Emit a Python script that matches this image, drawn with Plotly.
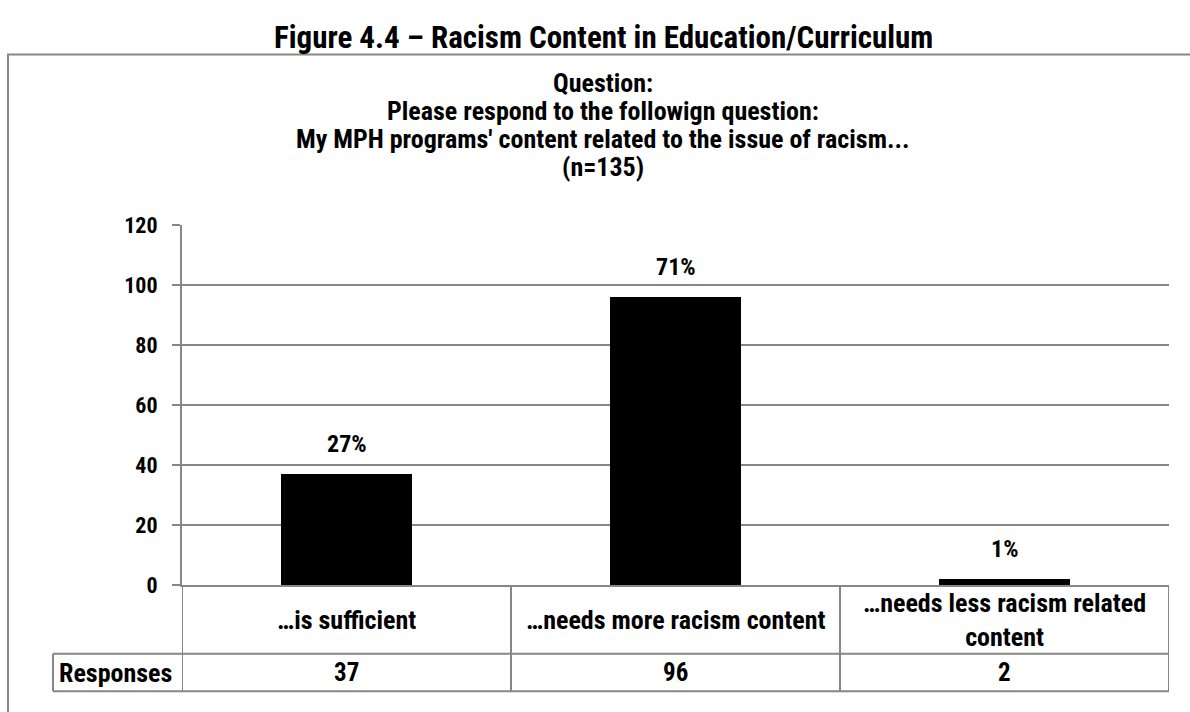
import plotly.graph_objects as go

# ---- data ----
categories = ["…is sufficient", "…needs more racism content", "…needs less racism related<br>content"]
responses = [37, 96, 2]
y_ticks = [0, 20, 40, 60, 80, 100, 120]
title_text = "Figure 4.4 – Racism Content in Education/Curriculum"
question_lines = [
    "Question:",
    "Please respond to the followign question:",
    "My MPH programs' content related to the issue of racism...",
    "(n=135)",
]
row_label = "Responses"

# ---- layout helpers (pixel -> paper) ----
W, H = 1190, 712
FONT = "Liberation Sans Narrow, Arial Narrow, Roboto Condensed, DejaVu Sans Condensed, sans-serif"
GRAY = "#878787"


def px(x):
    return x / W


def py(y):
    return 1 - y / H


x_dom = [px(182), px(1169)]
y_dom = [py(594), py(221)]
total = sum(responses)
positions = list(range(len(categories)))

fig = go.Figure()
fig.add_trace(go.Bar(
    x=positions, y=responses, width=0.4,
    marker=dict(color="#000000", line=dict(width=0)),
    hoverinfo="skip", showlegend=False,
))

annotations = []
# main title above the framed chart
annotations.append(dict(
    text=title_text, x=px(603), y=py(26), xref="paper", yref="paper",
    xanchor="center", yanchor="middle", showarrow=False,
    font=dict(family=FONT, size=31, color="#000", weight="bold"),
))
# question block, one annotation per line
for i, line in enumerate(question_lines):
    annotations.append(dict(
        text=line, x=px(603), y=py(74 + 29 * i), xref="paper", yref="paper",
        xanchor="center", yanchor="middle", showarrow=False,
        font=dict(family=FONT, size=26, color="#000", weight="bold"),
    ))
# percentage labels above bars
for xi, v in zip(positions, responses):
    annotations.append(dict(
        text=f"{round(v / total * 100)}%", x=xi, y=v, xref="x", yref="y",
        xanchor="center", yanchor="bottom", yshift=14, showarrow=False,
        font=dict(family=FONT, size=24, color="#000", weight="bold"),
    ))
# data table under the axis: category row and responses row
for xi, cat, v in zip(positions, categories, responses):
    annotations.append(dict(
        text=cat, x=xi, y=py(630), xref="x", yref="paper",
        xanchor="center", yanchor="middle", showarrow=False,
        font=dict(family=FONT, size=26, color="#000", weight="bold"),
    ))
    annotations.append(dict(
        text=str(v), x=xi, y=py(685), xref="x", yref="paper",
        xanchor="center", yanchor="middle", showarrow=False,
        font=dict(family=FONT, size=25, color="#000", weight="bold"),
    ))
annotations.append(dict(
    text=row_label, x=px(57), y=py(685), xref="paper", yref="paper",
    xanchor="left", yanchor="middle", showarrow=False,
    font=dict(family=FONT, size=26, color="#000", weight="bold"),
))

line_style = dict(color=GRAY, width=2)
shapes = [
    # outer frame
    dict(type="rect", xref="paper", yref="paper", x0=px(8), x1=px(1200),
         y0=py(730), y1=py(44), line=line_style, layer="below"),
    # table horizontal rules
    dict(type="line", xref="paper", yref="paper", x0=px(53), x1=x_dom[1],
         y0=py(665), y1=py(665), line=line_style),
    dict(type="line", xref="paper", yref="paper", x0=px(53), x1=x_dom[1],
         y0=py(704), y1=py(704), line=line_style),
    dict(type="line", xref="paper", yref="paper", x0=px(53), x1=px(53),
         y0=py(665), y1=py(704), line=line_style),
]
# table column dividers on category boundaries
for b in [p - 0.5 for p in positions] + [positions[-1] + 0.5]:
    shapes.append(dict(type="line", xref="x", yref="paper", x0=b, x1=b,
                       y0=py(594), y1=py(704), line=line_style))

fig.update_layout(
    width=W, height=H,
    margin=dict(l=0, r=0, t=0, b=0),
    paper_bgcolor="white", plot_bgcolor="white",
    bargap=0,
    annotations=annotations,
    shapes=shapes,
    xaxis=dict(
        domain=x_dom, range=[-0.5, len(categories) - 0.5],
        showticklabels=False, showgrid=False, zeroline=False,
        showline=True, linecolor=GRAY, linewidth=2, ticks="",
        fixedrange=True,
    ),
    yaxis=dict(
        domain=y_dom, range=[0, 120], tickvals=y_ticks,
        ticks="outside", ticklen=8, tickwidth=2, tickcolor=GRAY,
        showline=True, linecolor=GRAY, linewidth=2,
        showgrid=True, gridcolor=GRAY, gridwidth=2, zeroline=False,
        tickfont=dict(family=FONT, size=22, color="#000", weight="bold"),
        ticklabelstandoff=10,
        fixedrange=True,
    ),
)

fig.write_html("out.html")
